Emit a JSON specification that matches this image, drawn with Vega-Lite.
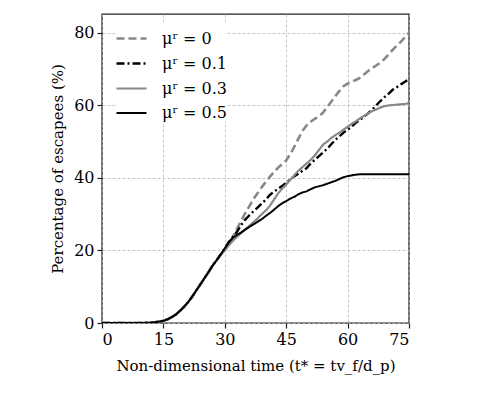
{
  "$schema": "https://vega.github.io/schema/vega-lite/v6.json",
  "width": 307,
  "height": 309,
  "autosize": "none",
  "padding": {"left": 102, "top": 14, "right": 89, "bottom": 76},
  "background": "white",
  "config": {
    "font": "DejaVu Serif",
    "view": {"stroke": "#222", "strokeWidth": 1.4},
    "axis": {
      "labelFont": "DejaVu Serif",
      "titleFont": "DejaVu Serif",
      "labelFontSize": 16,
      "titleFontSize": 15,
      "titleFontWeight": "normal",
      "labelColor": "#000",
      "titleColor": "#000",
      "domain": false,
      "tickColor": "#222",
      "tickSize": 5,
      "tickWidth": 1.2,
      "labelPadding": 3,
      "gridColor": "#b8b8b8",
      "gridDash": [3, 2],
      "gridWidth": 0.8
    },
    "legend": {
      "labelFont": "DejaVu Serif",
      "labelFontSize": 16,
      "labelColor": "#000"
    }
  },
  "data": {
    "values": [
      {"t": 0, "y": 0, "s": "μʳ = 0"}, {"t": 10, "y": 0, "s": "μʳ = 0"}, {"t": 12, "y": 0.1, "s": "μʳ = 0"}, {"t": 13, "y": 0.2, "s": "μʳ = 0"}, {"t": 14, "y": 0.4, "s": "μʳ = 0"}, {"t": 15, "y": 0.6, "s": "μʳ = 0"}, {"t": 16, "y": 1.0, "s": "μʳ = 0"}, {"t": 17, "y": 1.6, "s": "μʳ = 0"}, {"t": 18, "y": 2.3, "s": "μʳ = 0"}, {"t": 19, "y": 3.3, "s": "μʳ = 0"}, {"t": 20, "y": 4.4, "s": "μʳ = 0"}, {"t": 21, "y": 5.7, "s": "μʳ = 0"}, {"t": 22, "y": 7.2, "s": "μʳ = 0"}, {"t": 23, "y": 8.9, "s": "μʳ = 0"}, {"t": 24, "y": 10.6, "s": "μʳ = 0"}, {"t": 25, "y": 12.3, "s": "μʳ = 0"}, {"t": 26, "y": 14.0, "s": "μʳ = 0"}, {"t": 27, "y": 15.8, "s": "μʳ = 0"}, {"t": 28, "y": 17.3, "s": "μʳ = 0"}, {"t": 29, "y": 18.8, "s": "μʳ = 0"}, {"t": 30, "y": 20.3, "s": "μʳ = 0"}, {"t": 31, "y": 22.0, "s": "μʳ = 0"}, {"t": 32, "y": 23.8, "s": "μʳ = 0"}, {"t": 33, "y": 26.0, "s": "μʳ = 0"}, {"t": 34, "y": 28.2, "s": "μʳ = 0"}, {"t": 35, "y": 30.3, "s": "μʳ = 0"}, {"t": 36, "y": 32.2, "s": "μʳ = 0"}, {"t": 37, "y": 34.2, "s": "μʳ = 0"}, {"t": 38, "y": 35.8, "s": "μʳ = 0"}, {"t": 39, "y": 37.4, "s": "μʳ = 0"}, {"t": 40, "y": 38.9, "s": "μʳ = 0"}, {"t": 41, "y": 40.3, "s": "μʳ = 0"}, {"t": 42, "y": 41.6, "s": "μʳ = 0"}, {"t": 43, "y": 42.8, "s": "μʳ = 0"}, {"t": 44, "y": 43.8, "s": "μʳ = 0"}, {"t": 45, "y": 44.8, "s": "μʳ = 0"}, {"t": 46, "y": 46.6, "s": "μʳ = 0"}, {"t": 47, "y": 48.6, "s": "μʳ = 0"}, {"t": 48, "y": 50.9, "s": "μʳ = 0"}, {"t": 49, "y": 53.0, "s": "μʳ = 0"}, {"t": 50, "y": 54.5, "s": "μʳ = 0"}, {"t": 51, "y": 55.5, "s": "μʳ = 0"}, {"t": 52, "y": 56.3, "s": "μʳ = 0"}, {"t": 53, "y": 57.0, "s": "μʳ = 0"}, {"t": 54, "y": 58.0, "s": "μʳ = 0"}, {"t": 55, "y": 59.5, "s": "μʳ = 0"}, {"t": 56, "y": 61.0, "s": "μʳ = 0"}, {"t": 57, "y": 62.5, "s": "μʳ = 0"}, {"t": 58, "y": 64.0, "s": "μʳ = 0"}, {"t": 59, "y": 65.3, "s": "μʳ = 0"}, {"t": 60, "y": 66.0, "s": "μʳ = 0"}, {"t": 61, "y": 66.5, "s": "μʳ = 0"}, {"t": 62, "y": 67.0, "s": "μʳ = 0"}, {"t": 63, "y": 67.6, "s": "μʳ = 0"}, {"t": 64, "y": 68.5, "s": "μʳ = 0"}, {"t": 65, "y": 69.5, "s": "μʳ = 0"}, {"t": 66, "y": 70.3, "s": "μʳ = 0"}, {"t": 67, "y": 71.0, "s": "μʳ = 0"}, {"t": 68, "y": 71.8, "s": "μʳ = 0"}, {"t": 69, "y": 72.8, "s": "μʳ = 0"}, {"t": 70, "y": 74.0, "s": "μʳ = 0"}, {"t": 71, "y": 75.3, "s": "μʳ = 0"}, {"t": 72, "y": 76.5, "s": "μʳ = 0"}, {"t": 73, "y": 77.5, "s": "μʳ = 0"}, {"t": 74, "y": 78.8, "s": "μʳ = 0"}, {"t": 75, "y": 80.0, "s": "μʳ = 0"},

      {"t": 0, "y": 0, "s": "μʳ = 0.1"}, {"t": 10, "y": 0, "s": "μʳ = 0.1"}, {"t": 12, "y": 0.1, "s": "μʳ = 0.1"}, {"t": 13, "y": 0.2, "s": "μʳ = 0.1"}, {"t": 14, "y": 0.4, "s": "μʳ = 0.1"}, {"t": 15, "y": 0.6, "s": "μʳ = 0.1"}, {"t": 16, "y": 1.0, "s": "μʳ = 0.1"}, {"t": 17, "y": 1.6, "s": "μʳ = 0.1"}, {"t": 18, "y": 2.3, "s": "μʳ = 0.1"}, {"t": 19, "y": 3.3, "s": "μʳ = 0.1"}, {"t": 20, "y": 4.4, "s": "μʳ = 0.1"}, {"t": 21, "y": 5.7, "s": "μʳ = 0.1"}, {"t": 22, "y": 7.2, "s": "μʳ = 0.1"}, {"t": 23, "y": 8.9, "s": "μʳ = 0.1"}, {"t": 24, "y": 10.6, "s": "μʳ = 0.1"}, {"t": 25, "y": 12.3, "s": "μʳ = 0.1"}, {"t": 26, "y": 14.0, "s": "μʳ = 0.1"}, {"t": 27, "y": 15.8, "s": "μʳ = 0.1"}, {"t": 28, "y": 17.3, "s": "μʳ = 0.1"}, {"t": 29, "y": 18.9, "s": "μʳ = 0.1"}, {"t": 30, "y": 20.6, "s": "μʳ = 0.1"}, {"t": 31, "y": 22.4, "s": "μʳ = 0.1"}, {"t": 32, "y": 23.8, "s": "μʳ = 0.1"}, {"t": 33, "y": 25.2, "s": "μʳ = 0.1"}, {"t": 34, "y": 27.0, "s": "μʳ = 0.1"}, {"t": 35, "y": 28.5, "s": "μʳ = 0.1"}, {"t": 36, "y": 29.7, "s": "μʳ = 0.1"}, {"t": 37, "y": 30.8, "s": "μʳ = 0.1"}, {"t": 38, "y": 31.8, "s": "μʳ = 0.1"}, {"t": 39, "y": 32.9, "s": "μʳ = 0.1"}, {"t": 40, "y": 34.0, "s": "μʳ = 0.1"}, {"t": 41, "y": 35.3, "s": "μʳ = 0.1"}, {"t": 42, "y": 36.2, "s": "μʳ = 0.1"}, {"t": 43, "y": 37.0, "s": "μʳ = 0.1"}, {"t": 44, "y": 37.8, "s": "μʳ = 0.1"}, {"t": 45, "y": 38.6, "s": "μʳ = 0.1"}, {"t": 46, "y": 39.6, "s": "μʳ = 0.1"}, {"t": 47, "y": 40.5, "s": "μʳ = 0.1"}, {"t": 48, "y": 41.2, "s": "μʳ = 0.1"}, {"t": 49, "y": 42.0, "s": "μʳ = 0.1"}, {"t": 50, "y": 42.7, "s": "μʳ = 0.1"}, {"t": 51, "y": 44.0, "s": "μʳ = 0.1"}, {"t": 52, "y": 45.0, "s": "μʳ = 0.1"}, {"t": 53, "y": 46.0, "s": "μʳ = 0.1"}, {"t": 54, "y": 47.0, "s": "μʳ = 0.1"}, {"t": 55, "y": 48.0, "s": "μʳ = 0.1"}, {"t": 56, "y": 49.3, "s": "μʳ = 0.1"}, {"t": 57, "y": 50.5, "s": "μʳ = 0.1"}, {"t": 58, "y": 51.5, "s": "μʳ = 0.1"}, {"t": 59, "y": 52.5, "s": "μʳ = 0.1"}, {"t": 60, "y": 53.3, "s": "μʳ = 0.1"}, {"t": 61, "y": 54.2, "s": "μʳ = 0.1"}, {"t": 62, "y": 55.2, "s": "μʳ = 0.1"}, {"t": 63, "y": 56.0, "s": "μʳ = 0.1"}, {"t": 64, "y": 56.9, "s": "μʳ = 0.1"}, {"t": 65, "y": 57.8, "s": "μʳ = 0.1"}, {"t": 66, "y": 58.8, "s": "μʳ = 0.1"}, {"t": 67, "y": 60.0, "s": "μʳ = 0.1"}, {"t": 68, "y": 61.2, "s": "μʳ = 0.1"}, {"t": 69, "y": 62.3, "s": "μʳ = 0.1"}, {"t": 70, "y": 63.2, "s": "μʳ = 0.1"}, {"t": 71, "y": 64.3, "s": "μʳ = 0.1"}, {"t": 72, "y": 65.0, "s": "μʳ = 0.1"}, {"t": 73, "y": 65.8, "s": "μʳ = 0.1"}, {"t": 74, "y": 66.5, "s": "μʳ = 0.1"}, {"t": 75, "y": 67.3, "s": "μʳ = 0.1"},

      {"t": 0, "y": 0, "s": "μʳ = 0.3"}, {"t": 10, "y": 0, "s": "μʳ = 0.3"}, {"t": 12, "y": 0.1, "s": "μʳ = 0.3"}, {"t": 13, "y": 0.2, "s": "μʳ = 0.3"}, {"t": 14, "y": 0.4, "s": "μʳ = 0.3"}, {"t": 15, "y": 0.6, "s": "μʳ = 0.3"}, {"t": 16, "y": 1.0, "s": "μʳ = 0.3"}, {"t": 17, "y": 1.6, "s": "μʳ = 0.3"}, {"t": 18, "y": 2.3, "s": "μʳ = 0.3"}, {"t": 19, "y": 3.3, "s": "μʳ = 0.3"}, {"t": 20, "y": 4.4, "s": "μʳ = 0.3"}, {"t": 21, "y": 5.7, "s": "μʳ = 0.3"}, {"t": 22, "y": 7.2, "s": "μʳ = 0.3"}, {"t": 23, "y": 8.9, "s": "μʳ = 0.3"}, {"t": 24, "y": 10.6, "s": "μʳ = 0.3"}, {"t": 25, "y": 12.3, "s": "μʳ = 0.3"}, {"t": 26, "y": 14.0, "s": "μʳ = 0.3"}, {"t": 27, "y": 15.8, "s": "μʳ = 0.3"}, {"t": 28, "y": 17.3, "s": "μʳ = 0.3"}, {"t": 29, "y": 18.7, "s": "μʳ = 0.3"}, {"t": 30, "y": 20.0, "s": "μʳ = 0.3"}, {"t": 31, "y": 21.4, "s": "μʳ = 0.3"}, {"t": 32, "y": 22.7, "s": "μʳ = 0.3"}, {"t": 33, "y": 23.8, "s": "μʳ = 0.3"}, {"t": 34, "y": 24.8, "s": "μʳ = 0.3"}, {"t": 35, "y": 25.7, "s": "μʳ = 0.3"}, {"t": 36, "y": 26.8, "s": "μʳ = 0.3"}, {"t": 37, "y": 27.8, "s": "μʳ = 0.3"}, {"t": 38, "y": 28.8, "s": "μʳ = 0.3"}, {"t": 39, "y": 30.0, "s": "μʳ = 0.3"}, {"t": 40, "y": 31.0, "s": "μʳ = 0.3"}, {"t": 41, "y": 32.3, "s": "μʳ = 0.3"}, {"t": 42, "y": 34.0, "s": "μʳ = 0.3"}, {"t": 43, "y": 35.7, "s": "μʳ = 0.3"}, {"t": 44, "y": 37.0, "s": "μʳ = 0.3"}, {"t": 45, "y": 38.2, "s": "μʳ = 0.3"}, {"t": 46, "y": 39.5, "s": "μʳ = 0.3"}, {"t": 47, "y": 40.8, "s": "μʳ = 0.3"}, {"t": 48, "y": 42.0, "s": "μʳ = 0.3"}, {"t": 49, "y": 43.0, "s": "μʳ = 0.3"}, {"t": 50, "y": 44.0, "s": "μʳ = 0.3"}, {"t": 51, "y": 45.0, "s": "μʳ = 0.3"}, {"t": 52, "y": 46.2, "s": "μʳ = 0.3"}, {"t": 53, "y": 47.7, "s": "μʳ = 0.3"}, {"t": 54, "y": 49.2, "s": "μʳ = 0.3"}, {"t": 55, "y": 50.0, "s": "μʳ = 0.3"}, {"t": 56, "y": 51.0, "s": "μʳ = 0.3"}, {"t": 57, "y": 51.8, "s": "μʳ = 0.3"}, {"t": 58, "y": 52.5, "s": "μʳ = 0.3"}, {"t": 59, "y": 53.3, "s": "μʳ = 0.3"}, {"t": 60, "y": 54.1, "s": "μʳ = 0.3"}, {"t": 61, "y": 54.9, "s": "μʳ = 0.3"}, {"t": 62, "y": 55.6, "s": "μʳ = 0.3"}, {"t": 63, "y": 56.4, "s": "μʳ = 0.3"}, {"t": 64, "y": 57.1, "s": "μʳ = 0.3"}, {"t": 65, "y": 57.8, "s": "μʳ = 0.3"}, {"t": 66, "y": 58.4, "s": "μʳ = 0.3"}, {"t": 67, "y": 58.9, "s": "μʳ = 0.3"}, {"t": 68, "y": 59.4, "s": "μʳ = 0.3"}, {"t": 69, "y": 59.8, "s": "μʳ = 0.3"}, {"t": 70, "y": 60.0, "s": "μʳ = 0.3"}, {"t": 71, "y": 60.1, "s": "μʳ = 0.3"}, {"t": 72, "y": 60.2, "s": "μʳ = 0.3"}, {"t": 73, "y": 60.3, "s": "μʳ = 0.3"}, {"t": 74, "y": 60.4, "s": "μʳ = 0.3"}, {"t": 75, "y": 60.6, "s": "μʳ = 0.3"},

      {"t": 0, "y": 0, "s": "μʳ = 0.5"}, {"t": 10, "y": 0, "s": "μʳ = 0.5"}, {"t": 12, "y": 0.1, "s": "μʳ = 0.5"}, {"t": 13, "y": 0.2, "s": "μʳ = 0.5"}, {"t": 14, "y": 0.4, "s": "μʳ = 0.5"}, {"t": 15, "y": 0.6, "s": "μʳ = 0.5"}, {"t": 16, "y": 1.0, "s": "μʳ = 0.5"}, {"t": 17, "y": 1.6, "s": "μʳ = 0.5"}, {"t": 18, "y": 2.3, "s": "μʳ = 0.5"}, {"t": 19, "y": 3.3, "s": "μʳ = 0.5"}, {"t": 20, "y": 4.4, "s": "μʳ = 0.5"}, {"t": 21, "y": 5.7, "s": "μʳ = 0.5"}, {"t": 22, "y": 7.2, "s": "μʳ = 0.5"}, {"t": 23, "y": 8.9, "s": "μʳ = 0.5"}, {"t": 24, "y": 10.6, "s": "μʳ = 0.5"}, {"t": 25, "y": 12.3, "s": "μʳ = 0.5"}, {"t": 26, "y": 14.0, "s": "μʳ = 0.5"}, {"t": 27, "y": 15.8, "s": "μʳ = 0.5"}, {"t": 28, "y": 17.3, "s": "μʳ = 0.5"}, {"t": 29, "y": 18.9, "s": "μʳ = 0.5"}, {"t": 30, "y": 20.6, "s": "μʳ = 0.5"}, {"t": 31, "y": 22.2, "s": "μʳ = 0.5"}, {"t": 32, "y": 23.5, "s": "μʳ = 0.5"}, {"t": 33, "y": 24.3, "s": "μʳ = 0.5"}, {"t": 34, "y": 25.0, "s": "μʳ = 0.5"}, {"t": 35, "y": 25.8, "s": "μʳ = 0.5"}, {"t": 36, "y": 26.5, "s": "μʳ = 0.5"}, {"t": 37, "y": 27.2, "s": "μʳ = 0.5"}, {"t": 38, "y": 27.9, "s": "μʳ = 0.5"}, {"t": 39, "y": 28.6, "s": "μʳ = 0.5"}, {"t": 40, "y": 29.5, "s": "μʳ = 0.5"}, {"t": 41, "y": 30.3, "s": "μʳ = 0.5"}, {"t": 42, "y": 31.2, "s": "μʳ = 0.5"}, {"t": 43, "y": 32.2, "s": "μʳ = 0.5"}, {"t": 44, "y": 33.0, "s": "μʳ = 0.5"}, {"t": 45, "y": 33.6, "s": "μʳ = 0.5"}, {"t": 46, "y": 34.3, "s": "μʳ = 0.5"}, {"t": 47, "y": 34.8, "s": "μʳ = 0.5"}, {"t": 48, "y": 35.5, "s": "μʳ = 0.5"}, {"t": 49, "y": 36.0, "s": "μʳ = 0.5"}, {"t": 50, "y": 36.3, "s": "μʳ = 0.5"}, {"t": 51, "y": 36.9, "s": "μʳ = 0.5"}, {"t": 52, "y": 37.4, "s": "μʳ = 0.5"}, {"t": 53, "y": 37.7, "s": "μʳ = 0.5"}, {"t": 54, "y": 38.0, "s": "μʳ = 0.5"}, {"t": 55, "y": 38.4, "s": "μʳ = 0.5"}, {"t": 56, "y": 38.8, "s": "μʳ = 0.5"}, {"t": 57, "y": 39.2, "s": "μʳ = 0.5"}, {"t": 58, "y": 39.7, "s": "μʳ = 0.5"}, {"t": 59, "y": 40.2, "s": "μʳ = 0.5"}, {"t": 60, "y": 40.5, "s": "μʳ = 0.5"}, {"t": 61, "y": 40.7, "s": "μʳ = 0.5"}, {"t": 62, "y": 40.9, "s": "μʳ = 0.5"}, {"t": 63, "y": 41.0, "s": "μʳ = 0.5"}, {"t": 75, "y": 41.0, "s": "μʳ = 0.5"}
    ]
  },
  "mark": {"type": "line", "clip": true},
  "encoding": {
    "x": {
      "field": "t", "type": "quantitative",
      "scale": {"domain": [0, 75], "nice": false},
      "axis": {"values": [0, 15, 30, 45, 60, 75], "title": "Non-dimensional time (t* = tv_f/d_p)", "titlePadding": 11}
    },
    "y": {
      "field": "y", "type": "quantitative",
      "scale": {"domain": [0, 85.2], "nice": false},
      "axis": {"values": [0, 20, 40, 60, 80], "title": "Percentage of escapees (%)", "titlePadding": 8}
    },
    "color": {
      "field": "s", "type": "nominal",
      "scale": {"domain": ["μʳ = 0", "μʳ = 0.1", "μʳ = 0.3", "μʳ = 0.5"], "range": ["#888888", "#000000", "#888888", "#000000"]},
      "legend": {
        "title": null, "orient": "none", "legendX": 13, "legendY": 8,
        "symbolType": "stroke", "symbolSize": 900, "symbolStrokeWidth": 2.6,
        "rowPadding": -7, "labelOffset": 14, "fillColor": "white"
      }
    },
    "strokeDash": {
      "field": "s", "type": "nominal",
      "scale": {"domain": ["μʳ = 0", "μʳ = 0.1", "μʳ = 0.3", "μʳ = 0.5"], "range": [[8, 4], [8, 3, 2, 3], [1, 0], [1, 0]]},
      "legend": null
    },
    "strokeWidth": {
      "field": "s", "type": "nominal",
      "scale": {"domain": ["μʳ = 0", "μʳ = 0.1", "μʳ = 0.3", "μʳ = 0.5"], "range": [2.6, 2, 2.8, 2]},
      "legend": null
    }
  }
}
